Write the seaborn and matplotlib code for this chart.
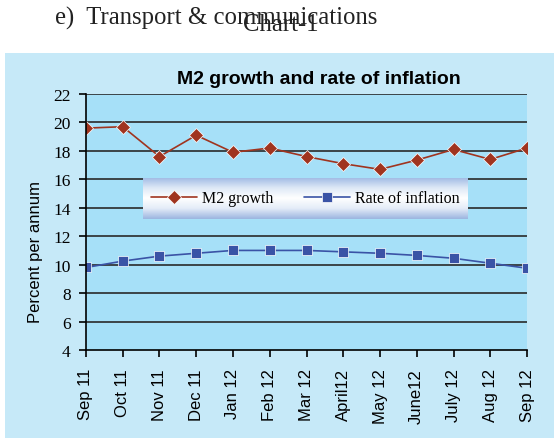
import numpy as np
import pandas as pd
import matplotlib
matplotlib.use("Agg")
import matplotlib.pyplot as plt
from matplotlib.colors import LinearSegmentedColormap
from matplotlib.patches import Rectangle
import seaborn as sns

# values
months = ["Sep 11", "Oct 11", "Nov 11", "Dec 11", "Jan 12", "Feb 12", "Mar 12",
          "April12", "May 12", "June12", "July 12", "Aug 12", "Sep 12"]
m2_growth = [19.6, 19.7, 17.6, 19.1, 17.9, 18.2, 17.6, 17.1, 16.7, 17.35, 18.1, 17.4, 18.2]
inflation = [9.8, 10.25, 10.6, 10.8, 11.0, 11.0, 11.0, 10.9, 10.8, 10.65, 10.45, 10.1, 9.75]
y_ticks = [4, 6, 8, 10, 12, 14, 16, 18, 20, 22]

df = pd.DataFrame({
    "month": months * 2,
    "value": m2_growth + inflation,
    "series": ["M2 growth"] * len(months) + ["Rate of inflation"] * len(months),
})

sns.set_style("white")
plt.rcParams["text.color"] = "black"
plt.rcParams["xtick.color"] = "black"
plt.rcParams["ytick.color"] = "black"
plt.rcParams["axes.labelcolor"] = "black"

fig = plt.figure(figsize=(5.54, 4.39), dpi=100)
fig.patch.set_facecolor("white")

# light blue chart box, behind everything
fig.patches.append(Rectangle((0.009, 0), 0.991, 0.877, transform=fig.transFigure,
                             facecolor="#c6e9f8", edgecolor="none", zorder=-5))

# page text above the chart (overlapping, as in the source)
fig.text(0.099, 0.958, "e)  Transport & communications", family="Liberation Serif",
         fontsize=17.8, color="#222222", va="center", ha="left")
fig.text(0.507, 0.942, "Chart-1", family="Liberation Serif",
         fontsize=17.8, color="#222222", va="center", ha="center")

ax = fig.add_axes([0.1552, 0.2005, 0.7961, 0.5831])
ax.set_facecolor("#a6e0f8")

sns.lineplot(data=df, x="month", y="value", hue="series", style="series",
             markers={"M2 growth": "D", "Rate of inflation": "s"}, dashes=False,
             palette={"M2 growth": "#a0341f", "Rate of inflation": "#3a53a6"},
             markersize=7.5, markeredgewidth=0.5, linewidth=1.2, sort=False, ax=ax)

ax.set_xlim(0, len(months) - 1)
ax.set_ylim(4, 22)
ax.set_yticks(y_ticks)
ax.set_yticklabels([str(t) for t in y_ticks], family="Liberation Serif", fontsize=12.5)
ax.set_xticks(range(len(months)))
ax.set_xticklabels(months, rotation=90, family="Liberation Sans", fontsize=12)
ax.tick_params(axis="both", direction="out", length=5, width=1.2, color="black",
               bottom=True, left=True)
ax.tick_params(axis="y", pad=6)
ax.tick_params(axis="x", pad=8)

for t in y_ticks[1:]:
    ax.axhline(t, color="#2a2a2a", linewidth=1.2, zorder=1)

for side in ["top", "right"]:
    ax.spines[side].set_visible(False)
for side in ["left", "bottom"]:
    ax.spines[side].set_color("black")
    ax.spines[side].set_linewidth(1.2)

ax.set_xlabel("")
ax.set_ylabel("Percent per annum", family="Liberation Sans", fontsize=12)
ax.yaxis.set_label_coords(-0.098, 0.387)
ax.set_title("M2 growth and rate of inflation", family="Liberation Sans",
             fontsize=14, fontweight="bold", pad=8, x=0.527, color="black")

handles, labels = ax.get_legend_handles_labels()
ax.get_legend().remove()

# legend with a white/blue gradient box
lax = fig.add_axes([0.258, 0.4989, 0.585, 0.0934])
grad_cmap = LinearSegmentedColormap.from_list(
    "leg", ["#9fb9e4", "#dde8f6", "#ffffff", "#e4ecf8", "#9db6e0"])
lax.imshow(np.linspace(0, 1, 64).reshape(-1, 1), aspect="auto", cmap=grad_cmap,
           extent=[0, 1, 0, 1])
lax.set_axis_off()
lax.legend(handles, labels, loc="center", ncol=2, frameon=False, handlelength=2.9,
           handletextpad=0.3, columnspacing=1.9,
           prop={"family": "Liberation Serif", "size": 11.5})

fig.savefig("out.png", dpi=100, facecolor=fig.get_facecolor())
